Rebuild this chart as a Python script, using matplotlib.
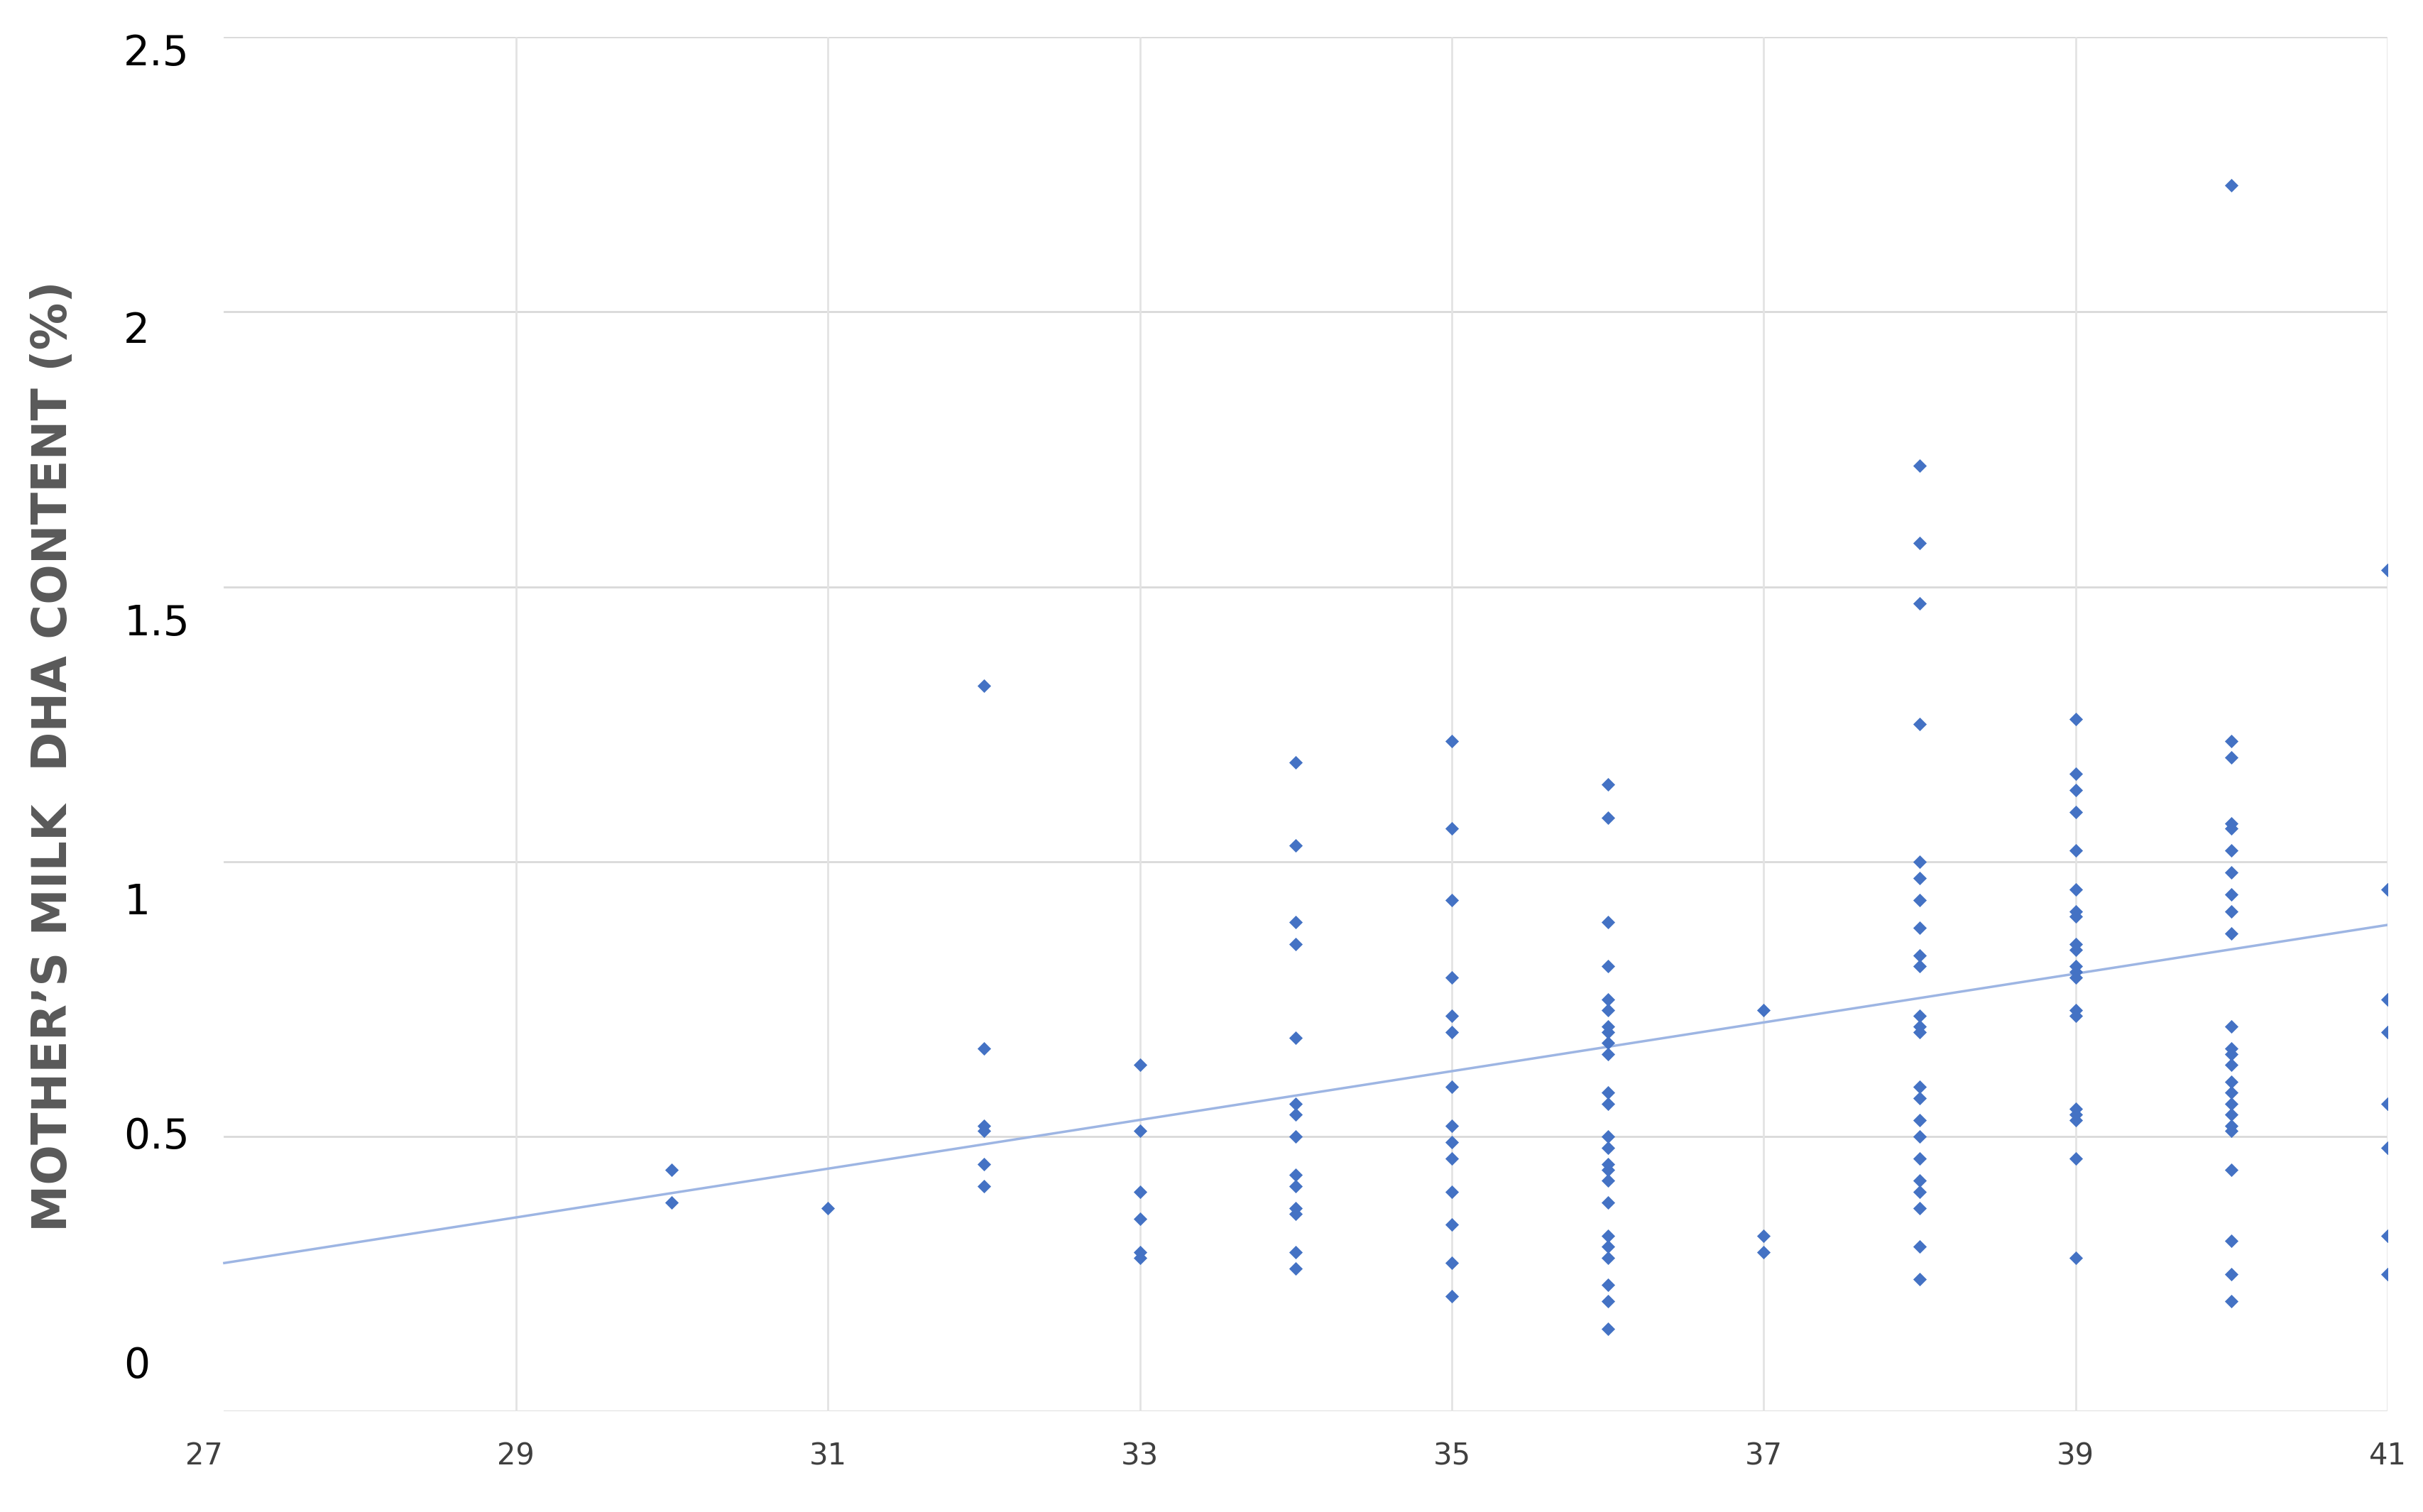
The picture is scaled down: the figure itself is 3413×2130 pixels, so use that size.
import matplotlib
matplotlib.use("Agg")
import matplotlib.pyplot as plt
import numpy as np

weeks = [30]*2 + [31] + [32]*6 + [33]*6 + [34]*14 + [35]*14 + [36]*24 + [37]*3 + [38]*23 + [39]*20 + [40]*24 + [41]*8
dha = [0.44, 0.38,
       0.37,
       1.32, 0.66, 0.52, 0.51, 0.45, 0.41,
       0.63, 0.51, 0.40, 0.35, 0.29, 0.28,
       1.18, 1.03, 0.89, 0.85, 0.68, 0.56, 0.54, 0.50, 0.43, 0.41, 0.37, 0.36, 0.29, 0.26,
       1.22, 1.06, 0.93, 0.79, 0.72, 0.69, 0.59, 0.52, 0.49, 0.46, 0.40, 0.34, 0.27, 0.21,
       1.14, 1.08, 0.89, 0.81, 0.75, 0.73, 0.70, 0.69, 0.67, 0.65, 0.58, 0.56, 0.50, 0.48, 0.45, 0.44, 0.42, 0.38, 0.32, 0.30, 0.28, 0.23, 0.20, 0.15,
       0.73, 0.32, 0.29,
       1.72, 1.58, 1.47, 1.25, 1.00, 0.97, 0.93, 0.88, 0.83, 0.81, 0.72, 0.70, 0.69, 0.59, 0.57, 0.53, 0.50, 0.46, 0.42, 0.40, 0.37, 0.30, 0.24,
       1.26, 1.16, 1.13, 1.09, 1.02, 0.95, 0.91, 0.90, 0.85, 0.84, 0.81, 0.80, 0.79, 0.73, 0.72, 0.55, 0.54, 0.53, 0.46, 0.28,
       2.23, 1.22, 1.19, 1.07, 1.06, 1.02, 0.98, 0.94, 0.91, 0.87, 0.70, 0.66, 0.65, 0.63, 0.60, 0.58, 0.56, 0.54, 0.52, 0.51, 0.44, 0.31, 0.25, 0.20,
       1.53, 0.95, 0.75, 0.69, 0.56, 0.48, 0.32, 0.25]
trend_x = [27.13, 41]
trend_y = [0.27, 0.885]
x_ticks = [27, 29, 31, 33, 35, 37, 39, 41]
y_ticks = [0, 0.5, 1, 1.5, 2, 2.5]
y_tick_labels = ["0", "0.5", "1", "1.5", "2", "2.5"]
y_label_pos = [0.033, 0.200, 0.370, 0.573, 0.786, 0.988]

fig = plt.figure(figsize=(34.13, 21.30), dpi=100)
ax = fig.add_axes([0.0842, 0.0665, 0.9012, 0.909])
ax.set_xlim(27, 41)
ax.set_ylim(0, 2.5)
ax.set_xticks(x_ticks)
ax.set_yticks(y_ticks)
ax.set_yticklabels([])
for s in ["top", "right", "left", "bottom"]:
    ax.spines[s].set_visible(False)
gx0 = 0.0092
for yv in y_ticks:
    ax.axhline(yv, xmin=gx0, xmax=1, color="#d9d9d9", linewidth=2, zorder=1)
for xv in x_ticks[1:]:
    ax.axvline(xv, color="#e3e3e3", linewidth=2, zorder=1)
ax.tick_params(axis="both", length=0)
ax.tick_params(axis="x", labelsize=30, pad=30, labelcolor="#404040")

ax.plot(trend_x, trend_y, color="#9db5e3", linewidth=2.5, zorder=2)
ax.scatter(weeks, dha, marker="D", s=95, color="#4472c4", zorder=3, linewidths=0)

label_x = (80 - 132) / 1413
for lab, pos in zip(y_tick_labels, y_label_pos):
    ax.text(label_x, pos, lab, transform=ax.transAxes, ha="left", va="center", fontsize=42, color="black")

fig.text(0.022, 0.5, "MOTHER\u2019S MILK  DHA CONTENT (%)", rotation=90, ha="center", va="center",
         fontsize=48, fontweight="bold", color="#595959")
fig.savefig("out.png", dpi=100)
